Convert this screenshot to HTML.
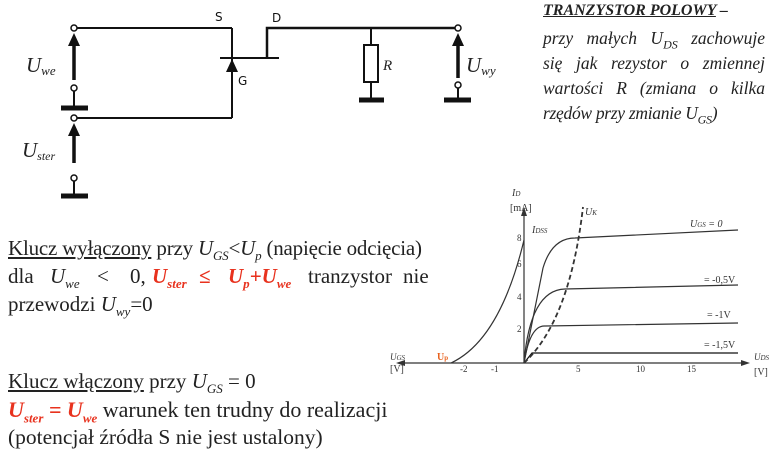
<!DOCTYPE html>
<html><head><meta charset="utf-8"><style>
body{margin:0;background:#fff;width:775px;height:456px;overflow:hidden;position:relative;font-family:"Liberation Serif",serif;color:#222}
.t{position:absolute;white-space:nowrap;font-size:21px}
.r{color:#e8321e;font-style:italic;font-weight:bold}
sub{font-size:13px}
.tr{position:absolute;left:543px;width:222px;font-style:italic;font-size:17.5px;white-space:nowrap;color:#222;text-align:justify;text-align-last:justify}
.tr sub{font-size:12px}
</style></head><body>
<svg width="775" height="456" style="position:absolute;left:0;top:0" font-family="Liberation Serif, serif">
<g stroke="#111" fill="none" stroke-width="2">
<line x1="77" y1="28" x2="232" y2="28"/>
<line x1="232" y1="28" x2="232" y2="118"/>
<line x1="77" y1="118" x2="232" y2="118"/>
<line x1="220" y1="58" x2="279" y2="58"/>
<polyline points="267,58 267,28 455,28" stroke-width="2.5"/>
<line x1="371" y1="28" x2="371" y2="45"/>
<rect x="364" y="45" width="14" height="37"/>
<line x1="371" y1="82" x2="371" y2="99"/>
<circle cx="74" cy="28" r="3" stroke-width="1.5"/>
<circle cx="74" cy="88" r="3" stroke-width="1.5"/>
<circle cx="74" cy="118" r="3" stroke-width="1.5"/>
<circle cx="74" cy="178" r="3" stroke-width="1.5"/>
<circle cx="458" cy="28" r="3" stroke-width="1.5"/>
<circle cx="458" cy="85" r="3" stroke-width="1.5"/>
<line x1="74" y1="91" x2="74" y2="106"/>
<line x1="74" y1="181" x2="74" y2="194"/>
<line x1="458" y1="88" x2="458" y2="98"/>
</g>
<g stroke="#111" stroke-width="3.5">
<line x1="74" y1="80" x2="74" y2="44"/>
<line x1="74" y1="163" x2="74" y2="134"/>
<line x1="458" y1="78" x2="458" y2="44"/>
<line x1="61" y1="108" x2="88" y2="108" stroke-width="5"/>
<line x1="61" y1="196" x2="88" y2="196" stroke-width="5"/>
<line x1="359" y1="100" x2="384" y2="100" stroke-width="5"/>
<line x1="444" y1="100" x2="471" y2="100" stroke-width="5"/>
</g>
<g fill="#111">
<polygon points="74,33 68,46 80,46"/>
<polygon points="74,123 68,136 80,136"/>
<polygon points="458,33 452,46 464,46"/>
<polygon points="232,59 226,72 238,72"/>
</g>
<g font-size="12" fill="#111" font-family="DejaVu Sans, sans-serif">
<text x="215" y="21">S</text><text x="272" y="22">D</text><text x="238" y="85">G</text>
</g>
<g font-style="italic" fill="#222">
<text x="26" y="72" font-size="21">U<tspan font-size="13" dy="3">we</tspan></text>
<text x="22" y="157" font-size="21">U<tspan font-size="12" dy="3">ster</tspan></text>
<text x="466" y="72" font-size="21">U<tspan font-size="13" dy="3">wy</tspan></text>
<text x="383" y="70" font-size="15">R</text>
</g>
<g stroke="#333" fill="none" stroke-width="1.2">
<line x1="400" y1="363" x2="745" y2="363"/>
<line x1="524" y1="363" x2="524" y2="212"/>
<path d="M451,363 Q500,340 524,240"/>
<path d="M524,363 L543,268 Q552,238 575,238 L738,230"/>
<path d="M524,363 Q530,290 565,289 L738,285"/>
<path d="M524,363 Q530,325 545,326 L738,323"/>
<path d="M524,363 L532,353 L738,353" stroke="#111"/>
<path d="M524,363 Q570,320 583,207" stroke-dasharray="5,3" stroke-width="1.8"/>
</g>
<polygon points="750,363 741,360 741,366" fill="#333"/>
<polygon points="396,363 405,360 405,366" fill="#333"/>
<polygon points="524,207 521,216 527,216" fill="#333"/>
<g font-size="9" fill="#333">
<text x="517" y="241">8</text><text x="517" y="267">6</text><text x="517" y="300">4</text><text x="517" y="332">2</text>
<text x="460" y="372">-2</text><text x="491" y="372">-1</text><text x="576" y="372">5</text><text x="636" y="372">10</text><text x="687" y="372">15</text>
<text x="512" y="196" font-style="italic" font-size="10">I<tspan font-size="7">D</tspan></text>
<text x="510" y="211" font-size="10">[mA]</text>
<text x="532" y="233" font-style="italic" font-size="10">I<tspan font-size="7">DSS</tspan></text>
<text x="585" y="215" font-style="italic" font-size="10">U<tspan font-size="7">K</tspan></text>
<text x="690" y="227" font-style="italic" font-size="10">U<tspan font-size="7">GS</tspan> = 0</text>
<text x="704" y="283" font-size="10">= -0,5V</text>
<text x="707" y="318" font-size="10">= -1V</text>
<text x="704" y="348" font-size="10">= -1,5V</text>
<text x="390" y="360" font-style="italic">U<tspan font-size="7">GS</tspan></text>
<text x="390" y="372" font-size="10">[V]</text>
<text x="754" y="360" font-style="italic">U<tspan font-size="7">DS</tspan></text>
<text x="754" y="375" font-size="10">[V]</text>
<text x="437" y="360" fill="#e8621e" font-weight="bold" font-size="10">U<tspan font-size="7">p</tspan></text>
</g>
</svg>

<div class="tr" style="top:2px;font-weight:bold;font-size:16px;width:auto;text-align:left;text-align-last:auto"><u>TRANZYSTOR POLOWY</u> –</div>
<div class="tr" style="top:28px">przy małych U<sub>DS</sub> zachowuje</div>
<div class="tr" style="top:53px">się jak rezystor o zmiennej</div>
<div class="tr" style="top:78px">wartości R (zmiana o kilka</div>
<div class="tr" style="top:103px;width:auto;text-align:left;text-align-last:auto;letter-spacing:-0.3px">rzędów przy zmianie U<sub>GS</sub>)</div>

<div class="t" style="left:8px;top:236px;letter-spacing:-0.2px"><u>Klucz wyłączony</u> przy <i>U<sub>GS</sub></i>&lt;<i>U<sub>p</sub></i> (napięcie odcięcia)</div>
<div class="t" style="left:8px;top:264px">dla</div>
<div class="t" style="left:50px;top:264px"><i>U<sub>we</sub></i></div>
<div class="t" style="left:97px;top:264px">&lt;</div>
<div class="t" style="left:130px;top:264px">0,</div>
<div class="t r" style="left:152px;top:264px">U<sub>ster</sub></div>
<div class="t r" style="left:199px;top:264px;font-style:normal">≤</div>
<div class="t r" style="left:228px;top:264px">U<sub>p</sub>+U<sub>we</sub></div>
<div class="t" style="left:308px;top:264px">tranzystor</div>
<div class="t" style="left:403px;top:264px">nie</div>
<div class="t" style="left:8px;top:292px">przewodzi <i>U<sub>wy</sub></i>=0</div>
<div class="t" style="left:8px;top:369px"><u>Klucz włączony</u> przy <i>U<sub>GS</sub></i> = 0</div>
<div class="t" style="left:8px;top:397px;font-size:22px"><span class="r">U<sub>ster</sub> = U<sub>we</sub></span> warunek ten trudny do realizacji</div>
<div class="t" style="left:8px;top:425px;font-size:21.5px">(potencjał źródła S nie jest ustalony)</div>
</body></html>
